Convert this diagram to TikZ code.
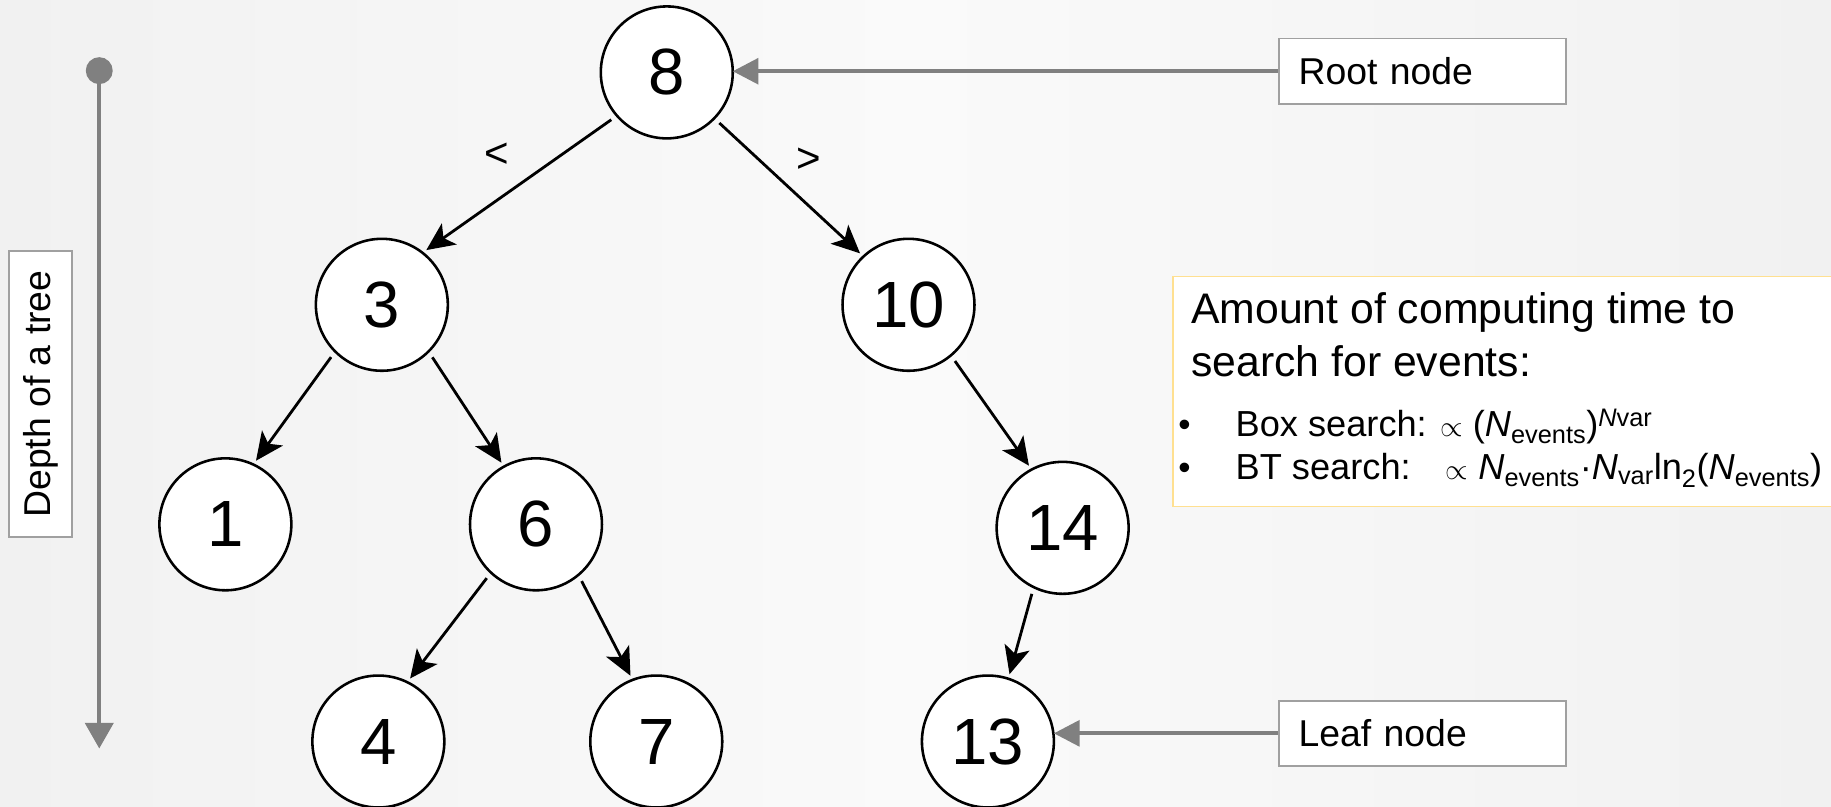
\documentclass[tikz,border=0pt]{standalone}
\usepackage{fontspec}
\setmainfont{Liberation Sans}
\usetikzlibrary{arrows.meta}
\definecolor{bgedge}{RGB}{241,241,241}
\definecolor{bgmid}{RGB}{250,250,250}
\definecolor{callgray}{RGB}{128,128,128}
\definecolor{boxgray}{RGB}{160,160,160}
\definecolor{formborder}{RGB}{255,224,145}
\begin{document}
\begin{tikzpicture}[x=1pt,y=-1pt,
  tn/.style={circle, draw=black, line width=2.2pt, fill=white, minimum size=113pt,
    inner sep=0pt, outer sep=0pt, font=\fontsize{56}{56}\selectfont},
  treeedge/.style={line width=2.4pt, draw=black, shorten <=6pt, shorten >=4pt,
    -{Stealth[length=24pt,width=22pt,inset=6pt]}},
  callbox/.style={draw=boxgray, line width=1.6pt, fill=white,
    font=\fontsize{32}{32}\selectfont, inner ysep=0pt},
  callarrow/.style={draw=callgray, line width=3.4pt, -{Triangle[length=22pt,width=22pt]}},
  cmp/.style={font=\fontsize{36.6}{36.6}\selectfont, anchor=base west, inner sep=0pt},
  bul/.style={font=\fontsize{31}{31}\selectfont, anchor=base west, inner sep=0pt},
  bulmark/.style={font=\fontsize{30}{30}\selectfont, anchor=base west, inner sep=0pt},
  cmplabel/.style={font=\fontsize{36}{36}\selectfont, inner sep=0pt}
]
\shade[left color=bgedge, right color=bgedge, middle color=bgmid] (0,0) rectangle (1568,691);
\useasboundingbox (0,0) rectangle (1568,691);

% tree nodes
\node[tn] (n8)  at (571,62)  {8};
\node[tn] (n3)  at (327,261) {3};
\node[tn] (n10) at (778,261) {10};
\node[tn] (n1)  at (193,449) {1};
\node[tn] (n6)  at (459,449) {6};
\node[tn] (n14) at (910,452) {14};
\node[tn] (n4)  at (324,635) {4};
\node[tn] (n7)  at (562,635) {7};
\node[tn] (n13) at (846,635) {13};

% tree edges
\draw[treeedge] (n8.221)  -- (n3.52);
\draw[treeedge] (n8.316)  -- (n10.133);
\draw[treeedge] (n3.225)  -- (n1.65);
\draw[treeedge] (n3.315)  -- (n6.119);
\draw[treeedge] (n10.310) -- (n14.118);
\draw[treeedge] (n6.227)  -- (n4.64);
\draw[treeedge] (n6.310)  -- (n7.111);
\draw[treeedge] (n14.244) -- (n13.72);

% comparison labels
\node[cmplabel] (lt) at (425,133) {<};
\node[cmplabel] (gt) at (693,137) {>};

% callout boxes
\node[callbox, text width=212pt, align=left, inner xsep=17pt, minimum height=56pt] (root) at (1218,61) {Root node};
\node[callbox, text width=212pt, align=left, inner xsep=17pt, minimum height=56pt] (leaf) at (1218,628) {Leaf node};
\draw[callarrow] (root.west) -- (root.west -| n8.east);
\draw[callarrow] (leaf.west) -- (leaf.west -| n13.east);

% depth axis
\node[callbox, rotate=90, minimum width=245pt, minimum height=54pt, inner xsep=0pt] (depth) at (35,337.5) {Depth of a tree};
\coordinate (dtop) at (85,49);
\coordinate (dbot) at (85,641);
\draw[draw=callgray, fill=callgray, line width=3.6pt,
  {Circle[length=23pt]}-{Triangle[length=22pt,width=24pt]}] (dtop) -- (dbot);

% formula box
\node[draw=formborder, line width=1.5pt, fill=white, minimum width=640pt, minimum height=197pt,
  anchor=north west, inner sep=0pt] (fbox) at (1004,236) {};
\node[cmp] (t1) at (1020,277) {Amount of computing time to};
\node[cmp] (t2) at (1020,322) {search for events:};
\node[bulmark] (b1) at (1009,374) {\textbullet};
\node[bul] (l1) at (1058,374) {Box search: $\propto$ (\textit{N}\textsubscript{events})\textsuperscript{\textit{N}var}};
\node[bulmark] (b2) at (1009,411) {\textbullet};
\node[bul] (l2) at (1058,411) {BT search:\hspace{30pt}$\propto$ \textit{N}\textsubscript{events}\textperiodcentered\textit{N}\textsubscript{var}ln\textsubscript{2}(\textit{N}\textsubscript{events})};
\end{tikzpicture}
\end{document}
